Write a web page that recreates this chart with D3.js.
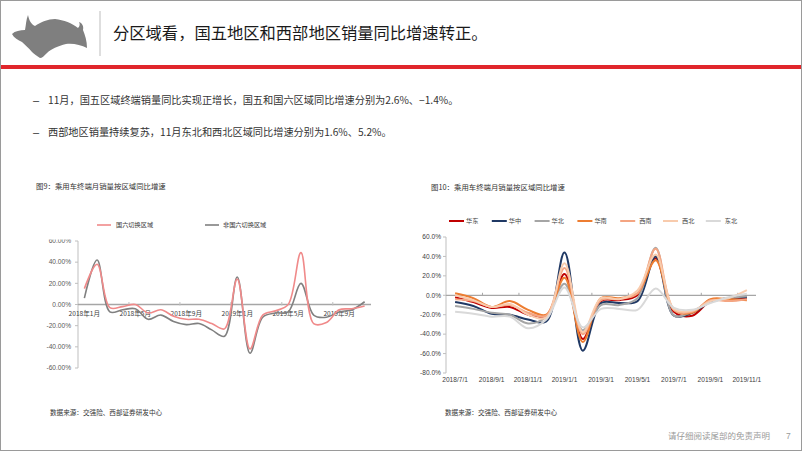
<!DOCTYPE html>
<html><head><meta charset="utf-8">
<script src="https://cdn.jsdelivr.net/npm/d3@7"></script>
<style>
html,body{margin:0;padding:0;background:#fff;}
svg{display:block;}
text{font-family:"Liberation Sans","Noto Sans CJK SC",sans-serif;}
.cjk{font-family:"Noto Sans CJK SC","Liberation Sans",sans-serif;}
</style></head>
<body>
<svg id="c" width="802" height="451"></svg>
<script>
// ---------- DATA ----------
const titleText = "分区域看，国五地区和西部地区销量同比增速转正。";
const bullets = [
  "11月，国五区域终端销量同比实现正增长，国五和国六区域同比增速分别为2.6%、−1.4%。",
  "西部地区销量持续复苏，11月东北和西北区域同比增速分别为1.6%、5.2%。"
];
const footerText = "请仔细阅读尾部的免责声明";
const pageNum = "7";

// Figure 9
const fig9Title = "图9：乘用车终端月销量按区域同比增速";
const fig9Source = "数据来源：交强险、西部证券研发中心";
const fig9Months = ["2018年1月","2018年2月","2018年3月","2018年4月","2018年5月","2018年6月","2018年7月","2018年8月","2018年9月","2018年10月","2018年11月","2018年12月",
  "2019年1月","2019年2月","2019年3月","2019年4月","2019年5月","2019年6月","2019年7月","2019年8月","2019年9月","2019年10月","2019年11月"];
const fig9SeriesNames = ["国六切换区域","非国六切换区域"];
const fig9Guoliu  = [15,38,-3,-2,0,-8,-5,-11,-14,-14,-18,-23,24,-42,-10,-6,0,49,-18,-17,-5,-4,-1.4];
const fig9Feiguoliu = [6,42,-7,-5,-4,-14,-10,-16,-19,-18,-24,-30,26,-46,-12,-8,-7,20,-10,-12,-7,-5,2.6];
const fig9YTicks = [-60,-40,-20,0,20,40,60];

// Figure 10
const fig10Title = "图10：乘用车终端月销量按区域同比增速";
const fig10Source = "数据来源：交强险、西部证券研发中心";
const fig10Months = ["2018/7/1","2018/8/1","2018/9/1","2018/10/1","2018/11/1","2018/12/1","2019/1/1","2019/2/1","2019/3/1","2019/4/1","2019/5/1","2019/6/1","2019/7/1","2019/8/1","2019/9/1","2019/10/1","2019/11/1"];
const fig10Names = ["华东","华中","华北","华南","西南","西北","东北"];
const huadong = [-2,-7,-13,-12,-20,-22,22,-45,-6,-5,0,38,-17,-21,-6,-4,-3];
const huazhong = [-7,-11,-19,-20,-25,-27,44,-57,-8,-8,-6,40,-21,-18,-7,-3,-2];
const huabei = [-11,-14,-18,-20,-29,-22,12,-36,-10,-10,-3,49,-21,-17,-6,-3,-1];
const huanan = [2,-3,-12,-6,-15,-20,18,-48,-3,-3,2,36,-15,-18,-4,-4,-5];
const xinan = [-4,-6,-12,-10,-18,-21,28,-40,-5,-4,2,48,-15,-17,-5,-6,-4];
const xibei = [0,-5,-12,-9,-20,-23,33,-38,-3,-4,5,42,-14,-16,-6,-3,5.2];
const dongbei = [-17,-19,-22,-22,-34,-25,8,-33,-14,-14,-15,7,-13,-15,-8,-2,1.6];
const fig10YTicks = [-80,-60,-40,-20,0,20,40,60];

// ---------- DRAW ----------
const svg = d3.select("#c");
const fig10Colors = ["#C00000","#1F3864","#A5A5A5","#ED7D31","#F4A582","#F8CBAD","#D9D9D9"];

// frame
svg.append("rect").attr("x",0.5).attr("y",0.5).attr("width",801).attr("height",450)
  .attr("fill","none").attr("stroke","#9a9a9a").attr("stroke-width",1);

// logo (bull silhouette)
svg.append("path")
  .attr("d","M12,34 C15,31 20,30 25,30 C26,25 26,20 28,15 C29,20 31,24 35,26 C41,22 48,19 55,19 C64,20 72,23 78,28 C80,26 80,24 79,22 C82,23 84,26 83,30 C85,35 87,41 87,48 C81,45 73,43 66,44 C58,46 51,49 47,53 C44,56 42,58 40,58 C37,56 34,54 32,52 C29,48 25,45 22,42 C18,40 14,38 12,34 Z")
  .attr("fill","#7f7f7f");
// divider
svg.append("line").attr("x1",100).attr("x2",100).attr("y1",11).attr("y2",56)
  .attr("stroke","#c8c8c8").attr("stroke-width",1.2);
// title
svg.append("text").attr("class","cjk").attr("x",113).attr("y",39)
  .attr("font-size",16.3).attr("fill","#1a1a1a").text(titleText);
// red rule
svg.append("rect").attr("x",1).attr("y",65).attr("width",800).attr("height",4).attr("fill","#E0262B");

// bullets
[100,132].forEach((cy,i)=>{
  svg.append("text").attr("x",33).attr("y",cy+4).attr("font-size",11).attr("fill","#333").text("–");
  svg.append("text").attr("class","cjk").attr("x",48).attr("y",cy+4)
    .attr("font-size",10.2).attr("fill","#333").text(bullets[i]);
});

// footer
svg.append("text").attr("class","cjk").attr("x",668).attr("y",439).attr("font-size",8.5)
  .attr("fill","#9a9a9a").text(footerText);
svg.append("text").attr("x",786).attr("y",439).attr("font-size",8.5).attr("fill","#9a9a9a").text(pageNum);

// ===== Figure 9 =====
svg.append("text").attr("class","cjk").attr("x",36).attr("y",189).attr("font-size",7.4)
  .attr("fill","#333").text(fig9Title);
svg.append("text").attr("class","cjk").attr("x",50).attr("y",415).attr("font-size",6.6)
  .attr("fill","#333").text(fig9Source);

const xL = d3.scaleBand().domain(fig9Months).range([78,371]).padding(0);
const yL = d3.scaleLinear().domain([-60,60]).range([368,241]);
const cxL = m => xL(m)+xL.bandwidth()/2;

// clip for labels (top label is cut in reference)
svg.append("clipPath").attr("id","clipL").append("rect").attr("x",0).attr("y",239.5).attr("width",400).attr("height",200);

const gL = svg.append("g");
// y axis
gL.append("line").attr("x1",78).attr("x2",78).attr("y1",yL(60)).attr("y2",yL(-60)).attr("stroke","#BFBFBF");
const yLab = gL.append("g").attr("clip-path","url(#clipL)");
fig9YTicks.forEach(t=>{
  gL.append("line").attr("x1",75).attr("x2",78).attr("y1",yL(t)).attr("y2",yL(t)).attr("stroke","#BFBFBF");
  yLab.append("text").attr("x",71).attr("y",yL(t)).attr("dy","0.35em").attr("text-anchor","end")
    .attr("font-size",6.6).attr("fill","#595959").text(t.toFixed(2)+"%");
});
// zero line
gL.append("line").attr("x1",78).attr("x2",371).attr("y1",yL(0)).attr("y2",yL(0)).attr("stroke","#A6A6A6").attr("stroke-width",1.3);
fig9Months.forEach((m,i)=>{
  if(i%4===0){
    if(i>0) gL.append("line").attr("x1",xL(m)).attr("x2",xL(m)).attr("y1",yL(0)-2.5).attr("y2",yL(0)+1).attr("stroke","#BFBFBF");
    gL.append("text").attr("class","cjk").attr("x",cxL(m)).attr("y",yL(0)+11).attr("text-anchor","middle")
      .attr("font-size",6.6).attr("fill","#404040").text(m);
  }
});
const lineL = d3.line().x((d,i)=>cxL(fig9Months[i])).y(d=>yL(d)).curve(d3.curveCatmullRom.alpha(0.5));
const fig9Colors = ["#F08A8A","#808080"];
[fig9Feiguoliu, fig9Guoliu].forEach((s,k)=>{
  gL.append("path").attr("d",lineL(s)).attr("fill","none")
    .attr("stroke", k===0?fig9Colors[1]:fig9Colors[0]).attr("stroke-width",1.6);
});
// legend
[[97,116],[205,223]].forEach((p,i)=>{
  gL.append("line").attr("x1",p[0]).attr("x2",p[0]+14).attr("y1",225).attr("y2",225)
    .attr("stroke",fig9Colors[i]).attr("stroke-width",1.6);
  gL.append("text").attr("class","cjk").attr("x",p[1]).attr("y",225).attr("dy","0.35em")
    .attr("font-size",6.2).attr("fill","#404040").text(fig9SeriesNames[i]);
});

// ===== Figure 10 =====
svg.append("text").attr("class","cjk").attr("x",431).attr("y",190).attr("font-size",7.4)
  .attr("fill","#333").text(fig10Title);
svg.append("text").attr("class","cjk").attr("x",445).attr("y",415).attr("font-size",6.6)
  .attr("fill","#333").text(fig10Source);

const xR = d3.scaleBand().domain(fig10Months).range([446,756]).padding(0);
const yR = d3.scaleLinear().domain([-80,60]).range([373,237]);
const cxR = m => xR(m)+xR.bandwidth()/2;
const gR = svg.append("g");
gR.append("line").attr("x1",446).attr("x2",446).attr("y1",yR(60)).attr("y2",yR(-80)).attr("stroke","#BFBFBF");
fig10YTicks.forEach(t=>{
  gR.append("line").attr("x1",443).attr("x2",446).attr("y1",yR(t)).attr("y2",yR(t)).attr("stroke","#BFBFBF");
  gR.append("text").attr("x",441).attr("y",yR(t)).attr("dy","0.35em").attr("text-anchor","end")
    .attr("font-size",6.6).attr("fill","#404040").text(t.toFixed(1)+"%");
});
gR.append("line").attr("x1",446).attr("x2",756).attr("y1",yR(0)).attr("y2",yR(0)).attr("stroke","#A6A6A6").attr("stroke-width",1.2);
fig10Months.forEach((m,i)=>{
  if(i%2===0){
    if(i>0) gR.append("line").attr("x1",xR(m)).attr("x2",xR(m)).attr("y1",yR(0)-2.5).attr("y2",yR(0)).attr("stroke","#A6A6A6");
    gR.append("text").attr("x",cxR(m)).attr("y",yR(-80)+7).attr("dy","0.35em").attr("text-anchor","middle")
      .attr("font-size",6.6).attr("fill","#404040").text(m);
  }
});
const lineR = d3.line().x((d,i)=>cxR(fig10Months[i])).y(d=>yR(d)).curve(d3.curveCatmullRom.alpha(0.5));
const fig10Series = [huadong,huazhong,huabei,huanan,xinan,xibei,dongbei];
fig10Series.forEach((s,k)=>{
  gR.append("path").attr("d",lineR(s)).attr("fill","none").attr("stroke",fig10Colors[k]).attr("stroke-width",2);
});
// legend
fig10Names.forEach((n,i)=>{
  const x0 = 449 + i*42.8;
  gR.append("line").attr("x1",x0).attr("x2",x0+15).attr("y1",221).attr("y2",221)
    .attr("stroke",fig10Colors[i]).attr("stroke-width",2);
  gR.append("text").attr("class","cjk").attr("x",x0+(i>=4?19:17)).attr("y",221).attr("dy","0.35em")
    .attr("font-size",6.2).attr("fill","#404040").text(n);
});
</script>
</body></html>
